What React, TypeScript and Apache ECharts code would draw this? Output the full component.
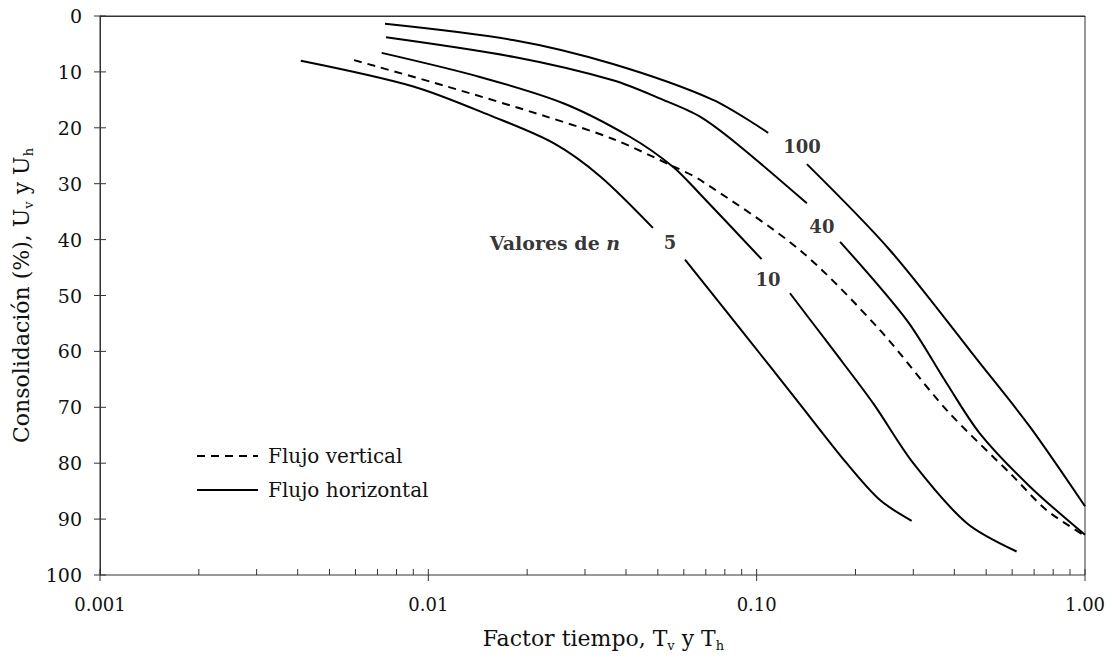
import React, { useEffect, useRef } from "react";
import * as echarts from "echarts";

const FONT = '"DejaVu Serif", "Liberation Serif", serif';
const INK = "#111";
const AXIS = "#333";

// x-axis (log) decade tick labels
const xDecades = [0.001, 0.01, 0.1, 1];
const xDecadeLabels = ["0.001", "0.01", "0.10", "1.00"];
// minor tick multipliers within each decade
const minorSteps = [2, 3, 4, 5, 6, 7, 8, 9];
// y-axis ticks
const yTickValues = [0, 10, 20, 30, 40, 50, 60, 70, 80, 90, 100];

// Flujo vertical (dashed)
const verticalFlow: [number, number][] = [
  [0.00594, 7.9], [0.01138, 12.6], [0.0229, 18.0], [0.0365, 22.0], [0.0557, 26.9],
  [0.0672, 29.3], [0.1355, 41.9], [0.2375, 56.2], [0.379, 70.5], [0.605, 82.4],
  [0.764, 88.4], [1.0, 93.0],
];

// Flujo horizontal, n = 5 (two parts, gap for the label)
const n5Upper: [number, number][] = [
  [0.00409, 8.0], [0.009, 12.6], [0.01574, 18.0], [0.024, 22.7], [0.0334, 28.7], [0.0483, 37.9],
];
const n5Lower: [number, number][] = [
  [0.0605, 43.6], [0.0932, 57.4], [0.1324, 68.7], [0.188, 80.0], [0.2375, 86.6], [0.2965, 90.3],
];

// n = 10
const n10Upper: [number, number][] = [
  [0.00721, 6.6], [0.01435, 10.9], [0.02576, 15.6], [0.0411, 21.6], [0.0557, 27.0],
  [0.0671, 31.8], [0.1035, 43.5],
];
const n10Lower: [number, number][] = [
  [0.1263, 49.6], [0.1708, 59.7], [0.2265, 69.3], [0.2999, 80.0], [0.436, 90.7], [0.619, 95.8],
];

// n = 40
const n40Upper: [number, number][] = [
  [0.00743, 3.8], [0.01811, 7.3], [0.0365, 11.5], [0.0519, 15.0], [0.0672, 18.0],
  [0.0868, 22.8], [0.1422, 33.5],
];
const n40Lower: [number, number][] = [
  [0.1795, 40.4], [0.2864, 54.4], [0.379, 65.7], [0.4786, 74.7], [0.68, 84.2], [1.0, 92.8],
];

// n = 100
const n100Upper: [number, number][] = [
  [0.00738, 1.4], [0.0181, 4.3], [0.0365, 8.6], [0.0736, 15.0], [0.1084, 20.9],
];
const n100Lower: [number, number][] = [
  [0.1422, 26.5], [0.2547, 41.9], [0.4786, 62.1], [0.68, 73.5], [1.0, 87.7],
];

// curve labels (n values)
const nLabels = ["100", "40", "10", "5"];
const nLabelT = [0.1374, 0.158, 0.1083, 0.0545];
const nLabelU = [23.4, 37.6, 47.2, 40.6];
const titleT = 0.0243;
const titleU = 40.6;

const solidCurves = [n5Upper, n5Lower, n10Upper, n10Lower, n40Upper, n40Lower, n100Upper, n100Lower];

export default function App() {
  const ref = useRef<HTMLDivElement>(null);

  useEffect(() => {
    if (!ref.current) return;
    const chart = echarts.init(ref.current, null, { renderer: "svg" });

    const xMin = xDecades[0];
    const xMax = xDecades[xDecades.length - 1];
    const yMin = yTickValues[0];
    const yMax = yTickValues[yTickValues.length - 1];

    const subRich = {
      s: { fontSize: 13, fontFamily: FONT, color: INK, padding: [14, 0, 0, 0] },
    };

    const series: any[] = solidCurves.map((d) => ({
      type: "line",
      data: d,
      symbol: "none",
      smooth: 0.3,
      silent: true,
      lineStyle: { color: "#000", width: 2, type: "solid" },
    }));
    series.push({
      type: "line",
      data: verticalFlow,
      symbol: "none",
      smooth: 0.3,
      silent: true,
      lineStyle: { color: "#000", width: 2, type: [8, 6] },
    });

    const labelData: any[] = nLabels.map((t, i) => ({
      value: [nLabelT[i], nLabelU[i]],
      label: { formatter: t },
    }));
    labelData.push({
      value: [titleT, titleU],
      label: { formatter: "{a|Valores de }{b|n}" },
    });

    series.push({
      type: "scatter",
      data: labelData,
      symbolSize: 0,
      silent: true,
      label: {
        show: true,
        position: "inside",
        fontFamily: FONT,
        fontWeight: "bold",
        fontSize: 18,
        color: "#000",
        rich: {
          a: { fontFamily: FONT, fontWeight: "bold", fontSize: 19, color: "#000" },
          b: { fontFamily: FONT, fontWeight: "bold", fontStyle: "italic", fontSize: 19, color: "#000" },
        },
      },
    });

    // x ticks: decades cross the axis, minor ticks point inward only
    const xTickData: number[][] = [];
    for (let i = 0; i < xDecades.length; i++) {
      xTickData.push([xDecades[i], yMax, 1]);
      if (i < xDecades.length - 1) {
        minorSteps.forEach((m) => xTickData.push([xDecades[i] * m, yMax, 0]));
      }
    }
    series.push({
      type: "custom",
      coordinateSystem: "cartesian2d",
      silent: true,
      clip: false,
      z: 5,
      data: xTickData,
      renderItem: (_p: any, api: any) => {
        const pt = api.coord([api.value(0), api.value(1)]);
        const major = api.value(2) === 1;
        return {
          type: "line",
          shape: { x1: pt[0], y1: pt[1] - 6, x2: pt[0], y2: pt[1] + (major ? 6 : 0) },
          style: { stroke: AXIS, lineWidth: 1 },
        };
      },
    });
    // y ticks crossing the axis
    series.push({
      type: "custom",
      coordinateSystem: "cartesian2d",
      silent: true,
      clip: false,
      z: 5,
      data: yTickValues.map((v) => [xMin, v]),
      renderItem: (_p: any, api: any) => {
        const pt = api.coord([api.value(0), api.value(1)]);
        return {
          type: "line",
          shape: { x1: pt[0] - 6, y1: pt[1], x2: pt[0] + 6, y2: pt[1] },
          style: { stroke: AXIS, lineWidth: 1 },
        };
      },
    });

    const fmtX = (v: number) => {
      let best = 0;
      for (let i = 0; i < xDecades.length; i++) {
        if (Math.abs(Math.log10(v) - Math.log10(xDecades[i])) < Math.abs(Math.log10(v) - Math.log10(xDecades[best]))) best = i;
      }
      return xDecadeLabels[best];
    };

    chart.setOption({
      animation: false,
      backgroundColor: "#fff",
      grid: {
        left: 100,
        right: 27,
        top: 16,
        bottom: 83,
        show: true,
        borderColor: AXIS,
        borderWidth: 1,
        backgroundColor: "transparent",
      },
      xAxis: {
        type: "log",
        logBase: 10,
        min: xMin,
        max: xMax,
        position: "bottom",
        name: "Factor tiempo, T{s|v} y T{s|h}",
        nameLocation: "middle",
        nameGap: 50,
        nameTextStyle: { fontFamily: FONT, fontSize: 22, color: INK, rich: subRich, padding: [0, 0, 0, 22] },
        axisLine: { show: true, lineStyle: { color: AXIS, width: 1 } },
        axisTick: { show: false },
        minorTick: { show: false },
        splitLine: { show: false },
        axisLabel: { fontFamily: FONT, fontSize: 18, color: INK, margin: 20, formatter: fmtX },
      },
      yAxis: {
        type: "value",
        inverse: true,
        min: yMin,
        max: yMax,
        interval: 10,
        position: "left",
        name: "Consolidación (%), U{s|v} y U{s|h}",
        nameLocation: "middle",
        nameGap: 60,
        nameTextStyle: { fontFamily: FONT, fontSize: 22, color: INK, rich: subRich },
        axisLine: { show: true, lineStyle: { color: AXIS, width: 1 } },
        axisTick: { show: false },
        splitLine: { show: false },
        axisLabel: { fontFamily: FONT, fontSize: 19, color: INK, margin: 18 },
      },
      graphic: [
        {
          type: "line",
          shape: { x1: 197, y1: 456, x2: 258, y2: 456 },
          style: { stroke: "#000", lineWidth: 2, lineDash: [8, 6] },
          silent: true,
        },
        {
          type: "text",
          x: 268,
          y: 456,
          style: { text: "Flujo vertical", fontFamily: FONT, fontSize: 20, fill: INK, verticalAlign: "middle" },
          silent: true,
        },
        {
          type: "line",
          shape: { x1: 197, y1: 490, x2: 258, y2: 490 },
          style: { stroke: "#000", lineWidth: 2 },
          silent: true,
        },
        {
          type: "text",
          x: 268,
          y: 490,
          style: { text: "Flujo horizontal", fontFamily: FONT, fontSize: 20, fill: INK, verticalAlign: "middle" },
          silent: true,
        },
      ],
      series,
    });

    return () => chart.dispose();
  }, []);

  return (
    <div
      ref={ref}
      style={{ position: "absolute", left: 0, top: 0, width: 1112, height: 658, background: "#fff" }}
    />
  );
}
